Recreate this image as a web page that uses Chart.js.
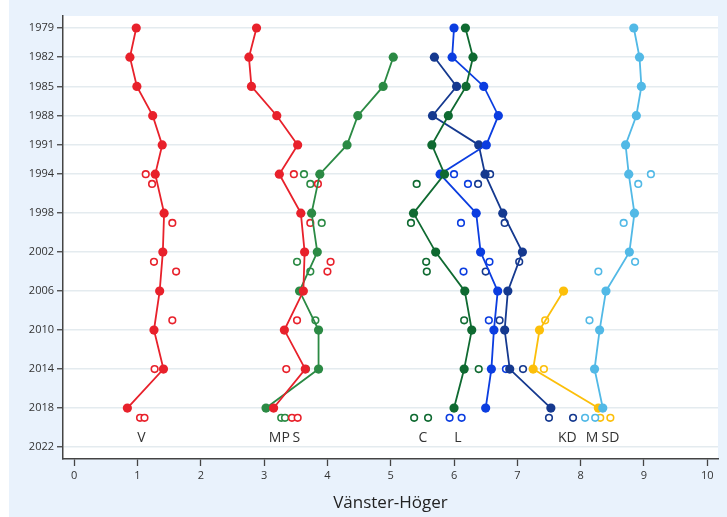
<!DOCTYPE html>
<html>
<head>
<meta charset="utf-8">
<script src="https://cdn.jsdelivr.net/npm/chart.js@4.4.1/dist/chart.umd.min.js"></script>
<style>
  html, body { margin: 0; padding: 0; background: #fff; }
  canvas { display: block; }
</style>
</head>
<body>
<canvas id="chart" width="727" height="517"></canvas>
<script>
// election years (filled dots, joined by lines)
const lineYears = [1979, 1982, 1985, 1988, 1991, 1994, 1998, 2002, 2006, 2010, 2014, 2018];
const V  = [0.98, 0.88, 0.99, 1.24, 1.39, 1.28, 1.42, 1.40, 1.35, 1.26, 1.41, 0.84];
const S  = [2.88, 2.76, 2.80, 3.20, 3.53, 3.24, 3.58, 3.64, 3.62, 3.32, 3.65, 3.15];
const MP = [null, 5.04, 4.88, 4.48, 4.31, 3.88, 3.75, 3.84, 3.56, 3.86, 3.86, 3.03];
const C  = [6.18, 6.30, 6.19, 5.91, 5.65, 5.85, 5.36, 5.71, 6.17, 6.28, 6.16, 6.00];
const L  = [6.00, 5.97, 6.47, 6.70, 6.51, 5.78, 6.35, 6.42, 6.69, 6.63, 6.59, 6.50];
const KD = [null, 5.69, 6.04, 5.66, 6.39, 6.49, 6.77, 7.08, 6.85, 6.80, 6.88, 7.53];
const M  = [8.84, 8.93, 8.96, 8.88, 8.71, 8.76, 8.85, 8.77, 8.40, 8.30, 8.22, 8.35];
const SD = [null, null, null, null, null, null, null, null, 7.73, 7.35, 7.25, 8.28];

// other surveys (hollow dots)
const hollowYears = [1994, 1995, 1999, 2003, 2004, 2009, 2014, 2019, 2019];
const hV  = [1.13, 1.23, 1.55, 1.26, 1.61, 1.55, 1.27, 1.04, 1.11];
const hS  = [3.47, 3.85, 3.73, 4.05, 4.00, 3.52, 3.35, 3.44, 3.53];
const hMP = [3.63, 3.73, 3.91, 3.52, 3.73, 3.81, 3.66, 3.27, 3.33];
const hC  = [null, 5.41, 5.32, 5.56, 5.57, 6.16, 6.39, 5.37, 5.59];
const hL  = [6.00, 6.22, 6.11, 6.56, 6.15, 6.55, 6.82, 5.93, 6.12];
const hKD = [6.57, 6.38, 6.80, 7.03, 6.50, 6.72, 7.09, 7.50, 7.88];
const hM  = [9.11, 8.91, 8.68, 8.86, 8.28, 8.14, null, 8.07, 8.23];
const hSD = [null, null, null, null, null, 7.44, 7.42, 8.31, 8.47];

// axis ticks
const yearTicks = [1979, 1982, 1985, 1988, 1991, 1994, 1998, 2002, 2006, 2010, 2014, 2018, 2022];
const xTicks = [0, 1, 2, 3, 4, 5, 6, 7, 8, 9, 10];

// party names written inside the plot
const labelNames = ['V', 'MP', 'S', 'C', 'L', 'KD', 'M', 'SD'];
const labelX = [1.06, 3.24, 3.51, 5.51, 6.06, 7.79, 8.18, 8.47];
const labelYear = 2021.1;

const colors = {
  V: '#e8212b', S: '#e8212b', MP: '#2b8a44', C: '#0f6a31',
  L: '#0b3de0', KD: '#15398f', M: '#52b9e6', SD: '#fcbf0a'
};

const parties = [
  ['V', V, hV], ['S', S, hS], ['MP', MP, hMP], ['C', C, hC],
  ['L', L, hL], ['KD', KD, hKD], ['M', M, hM], ['SD', SD, hSD]
];

function pts(years, vals) {
  return years.map((y, i) => ({ x: vals[i], y })).filter(p => p.x != null);
}

const datasets = [];
parties.forEach(([name, vals, hvals]) => {
  const col = colors[name];
  datasets.push({
    label: name,
    data: pts(lineYears, vals),
    showLine: true,
    borderColor: col,
    borderWidth: 1.8,
    pointRadius: 4.6,
    pointBackgroundColor: col,
    pointBorderColor: col,
    pointBorderWidth: 0,
    order: 0
  });
  datasets.push({
    label: name + ' (övr.)',
    data: pts(hollowYears, hvals),
    showLine: false,
    pointRadius: 3.3,
    pointBackgroundColor: '#fff',
    pointBorderColor: col,
    pointBorderWidth: 1.6,
    order: 1
  });
});

// light blue page, white plot area
const bgPlugin = {
  id: 'bg',
  beforeDraw(chart) {
    const { ctx, chartArea: a } = chart;
    ctx.save();
    ctx.fillStyle = '#fff';
    ctx.fillRect(0, 0, chart.width, chart.height);
    ctx.fillStyle = '#e9f2fc';
    ctx.fillRect(9, 0, chart.width - 9, chart.height);
    ctx.fillStyle = '#fff';
    ctx.fillRect(a.left, a.top, a.right - a.left, a.bottom - a.top);
    ctx.restore();
  }
};

const labelPlugin = {
  id: 'partyLabels',
  afterDatasetsDraw(chart) {
    const { ctx, scales } = chart;
    ctx.save();
    ctx.font = '14px "Open Sans", sans-serif';
    ctx.fillStyle = '#333';
    ctx.textAlign = 'center';
    ctx.textBaseline = 'middle';
    labelNames.forEach((t, i) => {
      ctx.fillText(t, scales.x.getPixelForValue(labelX[i]), scales.y.getPixelForValue(labelYear));
    });
    ctx.restore();
  }
};

new Chart(document.getElementById('chart').getContext('2d'), {
  type: 'scatter',
  data: { datasets },
  plugins: [bgPlugin, labelPlugin],
  options: {
    responsive: false,
    animation: false,
    layout: { padding: { left: 0, right: 9, top: 16, bottom: 0 } },
    plugins: { legend: { display: false }, tooltip: { enabled: false } },
    scales: {
      x: {
        type: 'linear',
        min: -0.177,
        max: 10.17,
        afterBuildTicks: s => { s.ticks = xTicks.map(v => ({ value: v })); },
        afterFit: s => { s.height = 58; },
        ticks: { font: { family: 'Open Sans', size: 11 }, color: '#333', padding: 3, callback: v => String(v) },
        grid: { drawOnChartArea: false, tickColor: '#444', tickLength: 7, tickWidth: 1.3 },
        border: { color: '#444', width: 1.5 },
        title: {
          display: true,
          text: 'Vänster-Höger',
          font: { family: 'Open Sans', size: 17 },
          color: '#222',
          padding: { top: 4, bottom: 4 }
        }
      },
      y: {
        type: 'linear',
        reverse: true,
        min: 1977.77,
        max: 2023.23,
        afterBuildTicks: s => { s.ticks = yearTicks.map(v => ({ value: v })); },
        afterFit: s => { s.width = 63; },
        ticks: { font: { family: 'Open Sans', size: 11 }, color: '#333', padding: 3, callback: v => String(v) },
        grid: { color: '#e4ebef', lineWidth: 1.5, tickColor: '#444', tickLength: 6, tickWidth: 1.3 },
        border: { color: '#444', width: 1.5 }
      }
    }
  }
});
</script>
</body>
</html>
